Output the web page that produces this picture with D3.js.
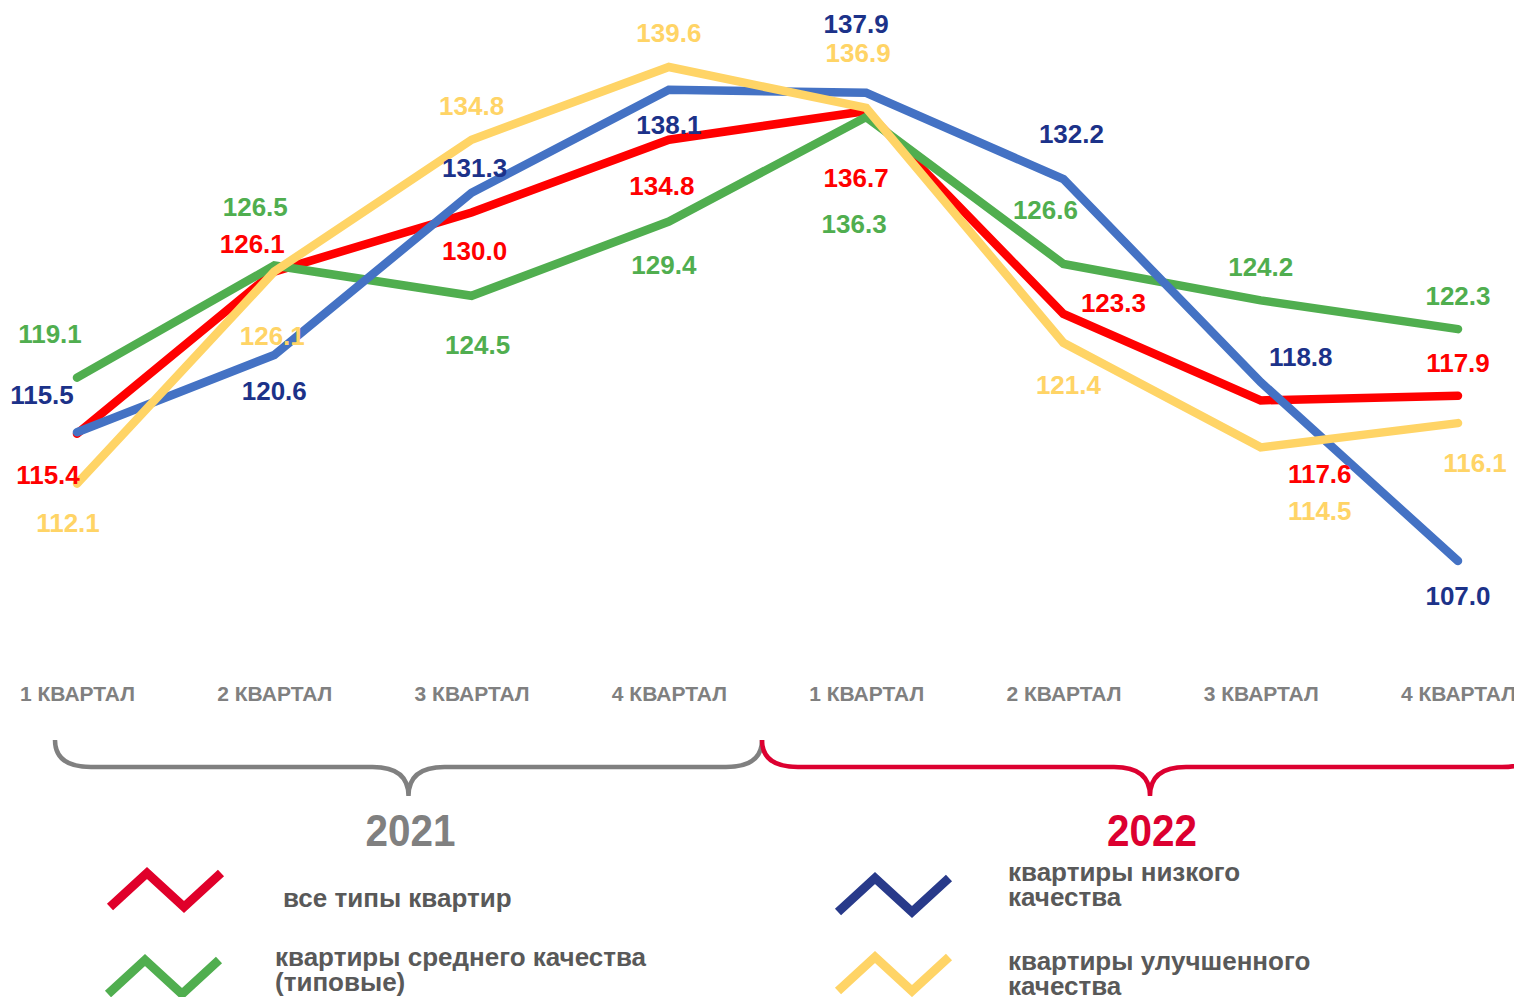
<!DOCTYPE html>
<html><head><meta charset="utf-8">
<script src="https://cdn.jsdelivr.net/npm/d3@7"></script>
<style>body{margin:0;background:#fff}svg{display:block}</style>
</head><body>
<svg id="c" width="1514" height="997"></svg>
<script>
const categories = ["1 КВАРТАЛ","2 КВАРТАЛ","3 КВАРТАЛ","4 КВАРТАЛ","1 КВАРТАЛ","2 КВАРТАЛ","3 КВАРТАЛ","4 КВАРТАЛ"];
const years = ["2021","2022"];
const allTypes = [115.4,126.1,130.0,134.8,136.7,123.3,117.6,117.9];
const mediumQuality = [119.1,126.5,124.5,129.4,136.3,126.6,124.2,122.3];
const lowQuality = [115.5,120.6,131.3,138.1,137.9,132.2,118.8,107.0];
const improvedQuality = [112.1,126.1,134.8,139.6,136.9,121.4,114.5,116.1];
const seriesNames = ["все типы квартир","квартиры среднего качества (типовые)","квартиры низкого качества","квартиры улучшенного качества"];

// label offsets (pixels, relative to point) – layout only
const offAll = [[-29,41],[-22,-28],[3,39],[-7,46],[-10,67],[50,-11],[59,74],[0,-33]];
const offMed = [[-27,-44],[-19,-59],[6,49],[-5,43],[-12,107],[-18,-54],[0,-33],[0,-33]];
const offLow = [[-35,-37],[0,36],[3,-25],[0,35],[-10,-69],[8,-45],[40,-25],[0,35]];
const offImp = [[-9,39],[-2,64],[0,-34],[0,-34],[-8,-55],[5,42],[59,64],[17,40]];

const svg = d3.select("#c");
const x = d3.scalePoint().domain(d3.range(categories.length)).range([77,1458]);
const y = d3.scaleLinear().domain([107,139.6]).range([561,67]);

const series = [
  {name:seriesNames[0], values:allTypes, line:"#ff0000", label:"#ff0000", icon:"#e0002a", off:offAll},
  {name:seriesNames[1], values:mediumQuality, line:"#50ae4f", label:"#50ae4f", icon:"#50ae4f", off:offMed},
  {name:seriesNames[2], values:lowQuality, line:"#4472c4", label:"#1c3289", icon:"#283a8a", off:offLow},
  {name:seriesNames[3], values:improvedQuality, line:"#ffd466", label:"#ffd466", icon:"#ffd466", off:offImp}
];

const line = d3.line().x((d,i)=>x(i)).y(d=>y(d));
const gl = svg.append("g");
series.forEach(s=>{
  gl.append("path").datum(s.values).attr("d",line)
    .attr("fill","none").attr("stroke",s.line).attr("stroke-width",8.5)
    .attr("stroke-linecap","round").attr("stroke-linejoin","miter");
});
const gt = svg.append("g").attr("font-family","'Liberation Sans',Arial,sans-serif").attr("font-weight","bold").attr("font-size",26);
series.forEach(s=>{
  gt.selectAll(null).data(s.values).enter().append("text")
    .attr("x",(d,i)=>x(i)+s.off[i][0]).attr("y",(d,i)=>y(d)+s.off[i][1])
    .attr("text-anchor","middle").attr("dominant-baseline","central")
    .attr("fill",s.label).text(d=>d.toFixed(1));
});

// x axis labels
const xAxis = d3.axisBottom(x).tickSize(0).tickFormat(i=>categories[i]);
const ax = svg.append("g").attr("transform","translate(0,686)").call(xAxis);
ax.select(".domain").remove();
ax.selectAll("text").attr("font-family","'Liberation Sans Narrow','Liberation Sans',Arial,sans-serif")
  .attr("font-weight","bold").attr("font-size",21).attr("fill","#808080").attr("dy","0.71em").attr("y",0);

// braces
function brace(x0,x1,yTop,yMid,yTip,r){
  const m=(x0+x1)/2;
  return `M${x0},${yTop} Q${x0},${yMid} ${x0+r},${yMid} L${m-r},${yMid} Q${m},${yMid} ${m},${yTip} Q${m},${yMid} ${m+r},${yMid} L${x1-r},${yMid} Q${x1},${yMid} ${x1},${yTop}`;
}
const groups = [
  {year:years[0], color:"#808080", x0:55, x1:762},
  {year:years[1], color:"#dc0030", x0:762, x1:1538}
];
groups.forEach(g=>{
  svg.append("path").attr("d",brace(g.x0,g.x1,740,767,796,36))
    .attr("fill","none").attr("stroke",g.color).attr("stroke-width",4.5);
  const cx = (g.x0+g.x1)/2 + 2;
  svg.append("text").attr("x",cx).attr("y",846).attr("text-anchor","middle")
    .attr("font-family","'Liberation Sans',Arial,sans-serif").attr("font-weight","bold")
    .attr("font-size",44).attr("textLength",90).attr("lengthAdjust","spacingAndGlyphs")
    .attr("fill",g.color).text(g.year);
});

// legend
const legend = [
  {s:series[0], ix:110, iy:873, tx:283, lines:["все типы квартир"], ty:907},
  {s:series[1], ix:108, iy:960, tx:275, lines:["квартиры среднего качества","(типовые)"], ty:966},
  {s:series[2], ix:838, iy:878, tx:1008, lines:["квартиры низкого","качества"], ty:881},
  {s:series[3], ix:838, iy:957, tx:1008, lines:["квартиры улучшенного","качества"], ty:970}
];
legend.forEach(l=>{
  const w=37,h=34;
  const pts=[[l.ix,l.iy+h],[l.ix+w,l.iy],[l.ix+2*w,l.iy+h],[l.ix+3*w,l.iy]];
  svg.append("path").attr("d",d3.line()(pts)).attr("fill","none")
    .attr("stroke",l.s.icon).attr("stroke-width",9).attr("stroke-linejoin","miter");
  const t = svg.append("text").attr("x",l.tx).attr("y",l.ty)
    .attr("font-family","'Liberation Sans',Arial,sans-serif").attr("font-weight","bold")
    .attr("font-size",26).attr("fill","#595959");
  l.lines.forEach((ln,i)=>t.append("tspan").attr("x",l.tx).attr("dy",i?25:0).text(ln));
});
</script>
</body></html>
